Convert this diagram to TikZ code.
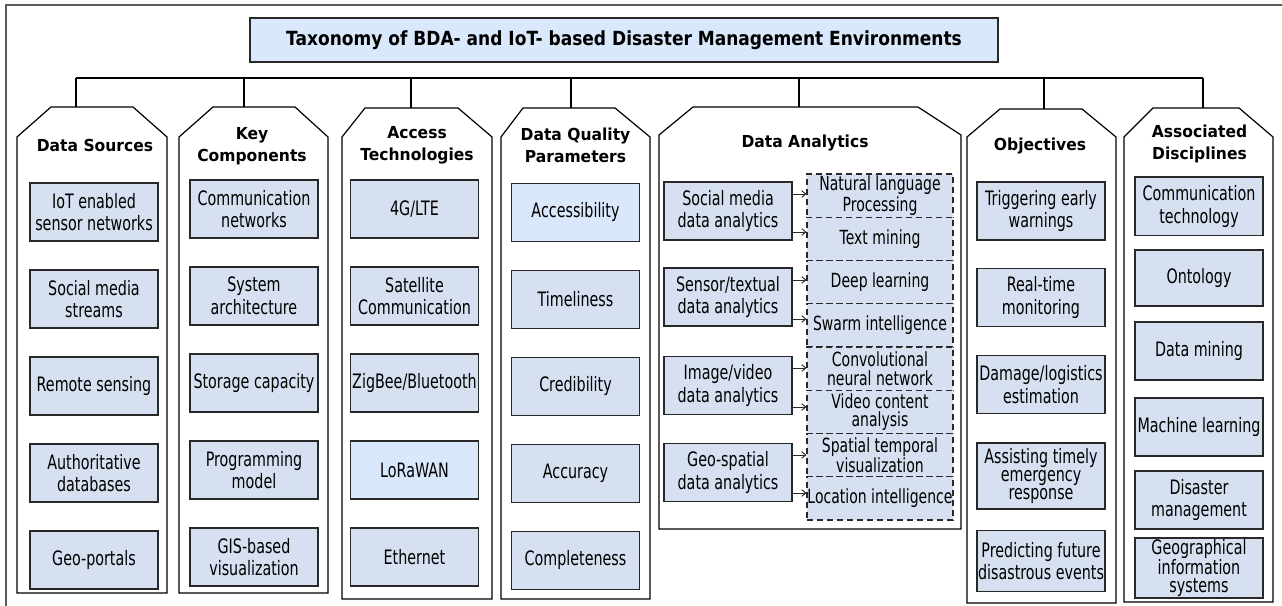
\documentclass[tikz,border=0pt]{standalone}
\usepackage{fontspec}
\setmainfont{DejaVu Sans}
\newfontfamily\innerfont[FakeStretch=0.72]{DejaVu Sans}
\newfontfamily\hdrfont[FakeStretch=0.94]{DejaVu Sans}
\newfontfamily\ttlfont[FakeStretch=0.875]{DejaVu Sans}
\usetikzlibrary{arrows.meta}
\definecolor{boxfill}{RGB}{214,224,240}
\definecolor{boxfillB}{RGB}{218,232,252}
\definecolor{edge}{RGB}{40,40,40}
\definecolor{framec}{RGB}{90,90,90}
\tikzset{
  item/.style={draw=edge, line width=1pt, fill=boxfill, minimum width=96pt, minimum height=43.5pt, inner sep=0pt, align=center, font=\innerfont\fontsize{14.9}{17}\selectfont},
  itemB/.style={item, fill=boxfillB},
  tight/.style={font=\innerfont\fontsize{14.9}{13.5}\selectfont},
  tile/.style={draw=edge, dash pattern=on 4.5pt off 3pt, line width=0.9pt, fill=boxfill, minimum width=109.5pt, minimum height=32.4pt, inner sep=0pt, align=center, font=\innerfont\fontsize{14.6}{13.8}\selectfont},
  hdr/.style={align=center, font=\hdrfont\bfseries\fontsize{12.4}{16.3}\selectfont},
  col/.style={draw=black, line width=0.9pt},
  link/.style={draw=black, line width=0.9pt},
  arr/.style={-{Straight Barb[length=3pt,width=5pt]}, line width=0.7pt, draw=edge},
  frame/.style={draw=framec, line width=0.8pt},
}
\begin{document}
\begin{tikzpicture}[x=0.75pt, y=-0.75pt]
\useasboundingbox (0,0) rectangle (1282,606);
\draw[frame] (6,606) -- (6,5) -- (1282,5);

% title
\node[draw=edge, line width=1pt, fill=boxfillB, minimum width=561pt, minimum height=33pt, inner sep=0pt,
      font=\ttlfont\bfseries\fontsize{14.6}{17}\selectfont] (title) at (624,40)
      {Taxonomy of BDA- and IoT- based Disaster Management Environments};

% columns
\draw[col] (17,593) -- (17,137) -- (51,107) -- (133,107) -- (167,137) -- (167,593) -- cycle;
\draw[col] (179,593) -- (179,137) -- (213,107) -- (295,107) -- (328,137) -- (328,593) -- cycle;
\draw[col] (342,599) -- (342,137) -- (365,108) -- (458,108) -- (492,137) -- (492,599) -- cycle;
\draw[col] (501,599) -- (501,137) -- (523,108) -- (615,108) -- (650,137) -- (650,599) -- cycle;
\draw[col] (659,529) -- (659,135) -- (693,107) -- (918,107) -- (961,135) -- (961,529) -- cycle;
\draw[col] (967,603) -- (967,137) -- (1000,109) -- (1082,109) -- (1116,137) -- (1116,603) -- cycle;
\draw[col] (1124,602) -- (1124,137) -- (1153,108) -- (1239,108) -- (1273,137) -- (1273,602) -- cycle;

% bus and stems
\coordinate (b1) at (76,78);   \coordinate (t1) at (76,107);
\coordinate (b2) at (244,78);  \coordinate (t2) at (244,107);
\coordinate (b3) at (411,78);  \coordinate (t3) at (411,108);
\coordinate (b4) at (571,78);  \coordinate (t4) at (571,108);
\coordinate (b5) at (799,78);  \coordinate (t5) at (799,107);
\coordinate (b6) at (1044,78); \coordinate (t6) at (1044,109);
\coordinate (b7) at (1203,78); \coordinate (t7) at (1203,108);
\draw[link] (b1) -- (b7);
\foreach \i in {1,...,7} { \draw[link] (b\i) -- (t\i); }

% headers
\node[hdr] (h1) at (95,145) {Data Sources};
\node[hdr] (h2) at (252,146) {Key\\Components};
\node[hdr] (h3) at (417,145) {Access\\Technologies};
\node[hdr] (h4) at (575.5,145) {Data Quality\\Parameters};
\node[hdr] (h5) at (805,143) {Data Analytics};
\node[hdr] (h6) at (1040,146) {Objectives};
\node[hdr] (h7) at (1199.5,144) {Associated\\Disciplines};

% column 1
\node[item] (ds1) at (94,212) {IoT enabled\\sensor networks};
\node[item] (ds2) at (94,299) {Social media\\streams};
\node[item] (ds3) at (94,386) {Remote sensing};
\node[item] (ds4) at (94,473) {Authoritative\\databases};
\node[item] (ds5) at (94,560) {Geo-portals};

% column 2
\node[item] (kc1) at (254,209) {Communication\\networks};
\node[item] (kc2) at (254,296) {System\\architecture};
\node[item] (kc3) at (254,383) {Storage capacity};
\node[item] (kc4) at (254,470) {Programming\\model};
\node[item] (kc5) at (254,557) {GIS-based\\visualization};

% column 3
\node[item] (at1) at (414.5,209) {4G/LTE};
\node[item] (at2) at (414.5,296) {Satellite\\Communication};
\node[item] (at3) at (414.5,383) {ZigBee/Bluetooth};
\node[itemB] (at4) at (414.5,470) {LoRaWAN};
\node[item] (at5) at (414.5,557) {Ethernet};

% column 4
\node[itemB] (dq1) at (575.5,212.5) {Accessibility};
\node[item] (dq2) at (575.5,299.5) {Timeliness};
\node[item] (dq3) at (575.5,386.5) {Credibility};
\node[item] (dq4) at (575.5,473.5) {Accuracy};
\node[item] (dq5) at (575.5,560.5) {Completeness};

% column 5
\node[item] (da1) at (728,211) {Social media\\data analytics};
\node[item] (da2) at (728,297) {Sensor/textual\\data analytics};
\node[item] (da3) at (728,385.5) {Image/video\\data analytics};
\node[item] (da4) at (728,472.5) {Geo-spatial\\data analytics};

\node[tile] (m1) at (880,195.6) {Natural language\\Processing};
\node[tile] (m2) at (880,238.9) {Text mining};
\node[tile] (m3) at (880,282.1) {Deep learning};
\node[tile] (m4) at (880,325.4) {Swarm intelligence};
\node[tile] (m5) at (880,368.6) {Convolutional\\neural network};
\node[tile] (m6) at (880,411.9) {Video content\\analysis};
\node[tile] (m7) at (880,455.1) {Spatial temporal\\visualization};
\node[tile] (m8) at (880,498.4) {Location intelligence};

\coordinate (y1) at (0,194); \coordinate (y2) at (0,232);
\coordinate (y3) at (0,280); \coordinate (y4) at (0,319);
\coordinate (y5) at (0,368); \coordinate (y6) at (0,407);
\coordinate (y7) at (0,455); \coordinate (y8) at (0,493);
\draw[arr] (da1.east |- y1) -- (m1.west |- y1);
\draw[arr] (da1.east |- y2) -- (m2.west |- y2);
\draw[arr] (da2.east |- y3) -- (m3.west |- y3);
\draw[arr] (da2.east |- y4) -- (m4.west |- y4);
\draw[arr] (da3.east |- y5) -- (m5.west |- y5);
\draw[arr] (da3.east |- y6) -- (m6.west |- y6);
\draw[arr] (da4.east |- y7) -- (m7.west |- y7);
\draw[arr] (da4.east |- y8) -- (m8.west |- y8);

% column 6
\node[item] (ob1) at (1041,211) {Triggering early\\warnings};
\node[item] (ob2) at (1041,297.5) {Real-time\\monitoring};
\node[item] (ob3) at (1041,384.5) {Damage/logistics\\estimation};
\node[item, tight, minimum height=49.5pt] (ob4) at (1041,476) {Assisting timely\\emergency\\response};
\node[item, minimum height=46pt] (ob5) at (1041,561) {Predicting future\\disastrous events};

% column 7
\node[item, minimum height=44pt] (ad1) at (1199,206.5) {Communication\\technology};
\node[item, minimum height=42pt] (ad2) at (1199,278) {Ontology};
\node[item] (ad3) at (1199,351) {Data mining};
\node[item] (ad4) at (1199,427) {Machine learning};
\node[item] (ad5) at (1199,500) {Disaster\\management};
\node[item, tight, minimum height=45pt] (ad6) at (1199,568) {Geographical\\information\\systems};
\end{tikzpicture}
\end{document}
